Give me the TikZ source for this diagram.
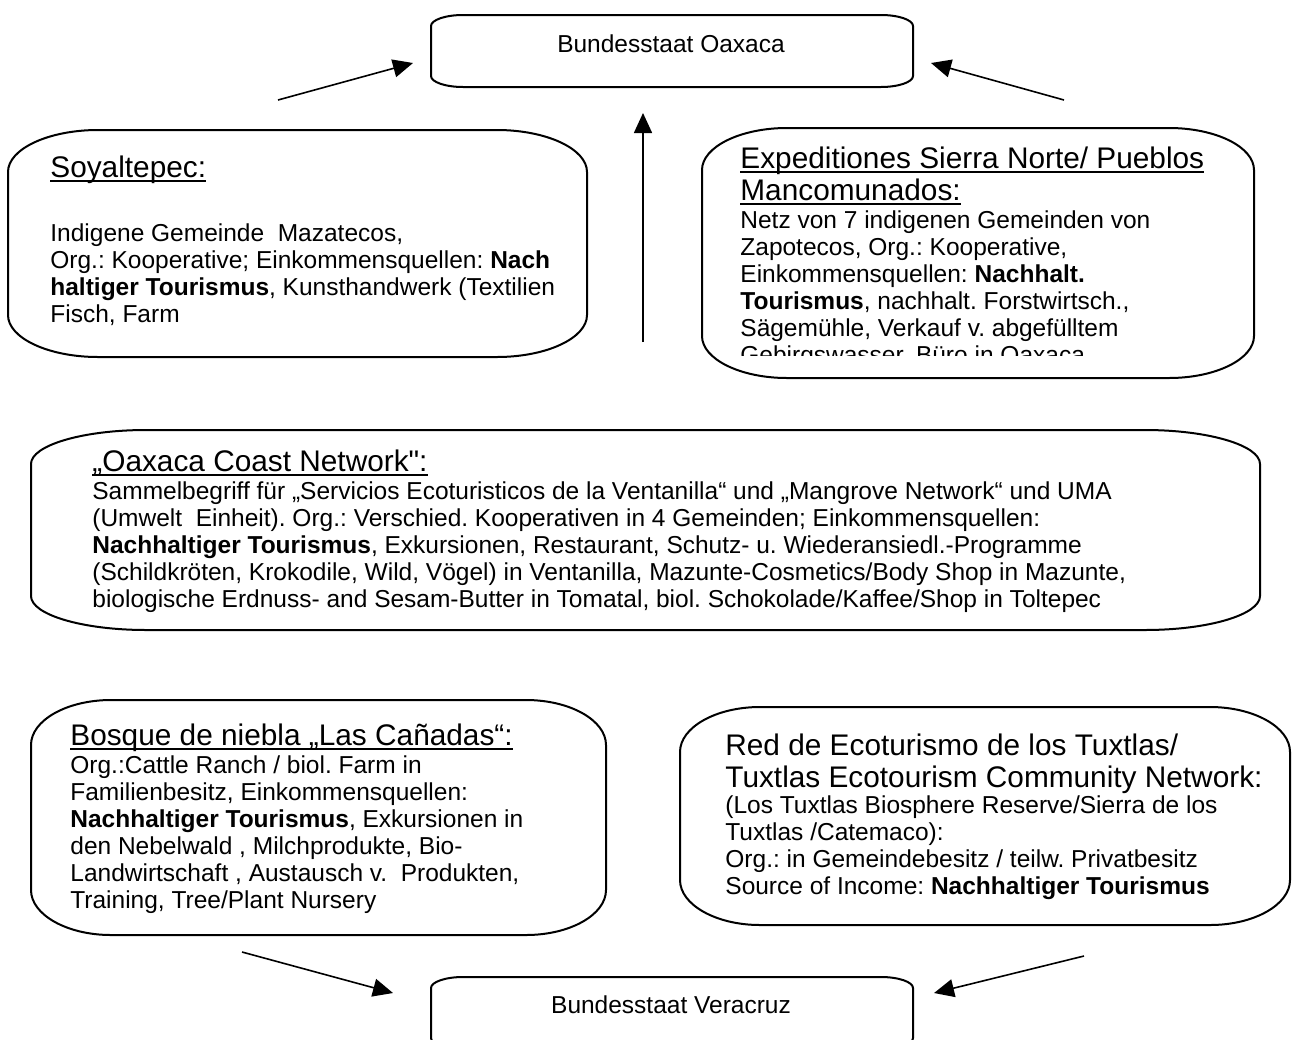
\documentclass[tikz,border=0pt]{standalone}
\usepackage{fontspec}
\setmainfont{Liberation Sans}
\usetikzlibrary{arrows.meta}
\frenchspacing

\newsavebox{\headbox}
\newcommand{\headline}[1]{\sbox{\headbox}{#1}\rlap{\rule[-2.4pt]{\wd\headbox}{0.9pt}}\usebox{\headbox}}
\newcommand{\bodyfont}{\fontsize{12.25pt}{13.5pt}\selectfont}
\newcommand{\headfont}{\fontsize{14.9pt}{16pt}\selectfont}
\newcommand{\bodystrut}{\rule{0pt}{10pt}}
\newcommand{\headstrut}{\rule{0pt}{12pt}}
% plaque outline: x1, y1, x2, y2, corner dx, corner dy
\newcommand{\plaque}[6]{%
  \draw[plaque line] (#1,#2+#6)
    .. controls (#1,#2+0.45*#6) and (#1+0.45*#5,#2) .. (#1+#5,#2)
    -- (#3-#5,#2)
    .. controls (#3-0.45*#5,#2) and (#3,#2+0.45*#6) .. (#3,#2+#6)
    -- (#3,#4-#6)
    .. controls (#3,#4-0.45*#6) and (#3-0.45*#5,#4) .. (#3-#5,#4)
    -- (#1+#5,#4)
    .. controls (#1+0.45*#5,#4) and (#1,#4-0.45*#6) .. (#1,#4-#6)
    -- cycle;}

\begin{document}
\begin{tikzpicture}[x=0.5pt,y=-0.5pt,
    plaque line/.style={line width=1pt},
    state/.style={anchor=base, inner sep=0pt, font=\bodyfont},
    head/.style={anchor=north west, inner sep=0pt, align=left, font=\headfont},
    body/.style={anchor=north west, inner sep=0pt, align=left, font=\bodyfont},
    flow/.style={line width=0.8pt, -{Triangle[length=10pt,width=9pt]}}]

    \useasboundingbox (0,0) rectangle (1294,1039);
    \fill[white] (0,0) rectangle (1294,1039);

    % outlines
    \plaque{431}{15}{913}{87}{32}{11}
    \plaque{431}{977}{913}{1049}{32}{11}
    \plaque{8}{130}{587}{357}{90}{42}
    \plaque{702}{128}{1254}{378}{85}{42}
    \plaque{31}{430}{1260}{630}{115}{34}
    \plaque{31}{700}{606}{935}{80}{45}
    \plaque{680}{707}{1290}{925}{80}{45}

    % states
    \node[state] (oaxaca) at (671,52) {Bundesstaat Oaxaca};
    \node[state] (veracruz) at (671,1013) {Bundesstaat Veracruz};

    % Soyaltepec
    \node[head] (soyhead) at (50,153) {\headstrut\headline{Soyaltepec:}};
    \begin{scope}
        \clip (8,130) rectangle (554,357);
        \node[body] (soytext) at (50,221) {\bodystrut Indigene Gemeinde\ \ Mazatecos,\\
            Org.: Kooperative; Einkommensquellen: \textbf{Nach}\\
            \textbf{haltiger Tourismus}, Kunsthandwerk (Textilien,\\
            Fisch, Farm};
    \end{scope}

    % Sierra Norte
    \node[head] (exphead) at (740,144) {\headstrut\headline{Expeditiones Sierra Norte/ Pueblos}\\
        \headline{Mancomunados:}};
    \begin{scope}
        \clip (702,128) rectangle (1254,355);
        \node[body] (exptext) at (740,208) {\bodystrut Netz von 7 indigenen Gemeinden von\\
            Zapotecos, Org.: Kooperative,\\
            Einkommensquellen: \textbf{Nachhalt.}\\
            \textbf{Tourismus}, nachhalt. Forstwirtsch.,\\
            Sägemühle, Verkauf v. abgefülltem\\
            Gebirgswasser, Büro in Oaxaca};
    \end{scope}

    % coast
    \node[head] (coasthead) at (92,447) {\headstrut\headline{„Oaxaca Coast Network\textquotedbl:}};
    \node[body] (coasttext) at (92,479) {\bodystrut Sammelbegriff für „Servicios Ecoturisticos de la Ventanilla“ und „Mangrove Network“ und UMA\\
        (Umwelt\ \ Einheit). Org.: Verschied. Kooperativen in 4 Gemeinden; Einkommensquellen:\\
        \textbf{Nachhaltiger Tourismus}, Exkursionen, Restaurant, Schutz- u. Wiederansiedl.-Programme\\
        (Schildkröten, Krokodile, Wild, Vögel) in Ventanilla, Mazunte-Cosmetics/Body Shop in Mazunte,\\
        biologische Erdnuss- and Sesam-Butter in Tomatal, biol. Schokolade/Kaffee/Shop in Toltepec};

    % Las Canadas
    \node[head] (boshead) at (70,721) {\headstrut\headline{Bosque de niebla „Las Cañadas“:}};
    \node[body] (bostext) at (70,753) {\bodystrut Org.:Cattle Ranch / biol. Farm in\\
        Familienbesitz, Einkommensquellen:\\
        \textbf{Nachhaltiger Tourismus}, Exkursionen in\\
        den Nebelwald , Milchprodukte, Bio-\\
        Landwirtschaft , Austausch v.\ \ Produkten,\\
        Training, Tree/Plant Nursery};

    % Tuxtlas
    \node[head] (tuxhead) at (725,731) {\headstrut Red de Ecoturismo de los Tuxtlas/\\
        Tuxtlas Ecotourism Community Network:};
    \node[body] (tuxtext) at (725,793) {\bodystrut(Los Tuxtlas Biosphere Reserve/Sierra de los\\
        Tuxtlas /Catemaco):\\
        Org.: in Gemeindebesitz / teilw. Privatbesitz\\
        Source of Income: \textbf{Nachhaltiger Tourismus}};

    % arrow ends
    \coordinate (soyout) at (278,100);
    \coordinate (oaxin1) at (413,63);
    \coordinate (expout) at (1064,100);
    \coordinate (oaxin2) at (931,63);
    \coordinate (coastout) at (643,342);
    \coordinate (oaxin3) at (643,113);
    \coordinate (bosout) at (242,952);
    \coordinate (verin1) at (393,993);
    \coordinate (tuxout) at (1084,956);
    \coordinate (verin2) at (934,993);

    \path[flow]
        (soyout) edge (oaxin1)
        (expout) edge (oaxin2)
        (coastout) edge (oaxin3)
        (bosout) edge (verin1)
        (tuxout) edge (verin2);
\end{tikzpicture}
\end{document}
